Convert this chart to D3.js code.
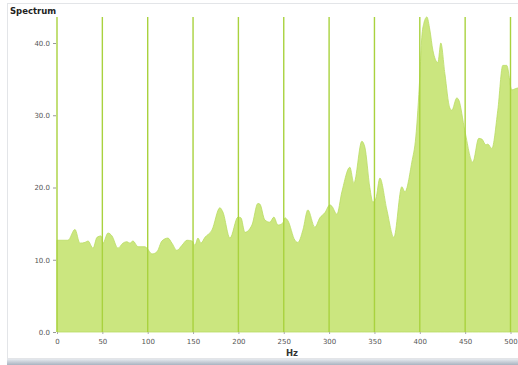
<!DOCTYPE html>
<html>
<head>
<meta charset="utf-8">
<script src="https://cdn.jsdelivr.net/npm/d3@7"></script>
<style>
  html, body { margin: 0; padding: 0; background: #ffffff; }
  svg { display: block; }
  text { font-family: Verdana, "DejaVu Sans", sans-serif; }
</style>
</head>
<body>
<svg id="chart" width="518" height="365"></svg>
<script>
// Spectrum amplitude by frequency (Hz)
const freqHz = [0, 12.1, 19.8, 25.3, 30.9, 34.2, 39.7, 44.1, 48.5, 50.7, 56.2, 60.6, 67.2, 72.7, 77.1, 80.4, 83.8, 89.3, 97.0, 99.2,
  104.7, 110.2, 115.7, 122.3, 126.7, 132.2, 137.8, 143.3, 148.8, 152.1, 155.4, 158.7, 163.1, 170.8, 179.6, 182.9, 190.7, 199.5,
  202.8, 207.2, 214.9, 221.5, 223.7, 229.2, 234.7, 239.1, 243.6, 249.1, 251.3, 254.6, 262.3, 265.6, 271.1, 276.6, 284.3, 289.8,
  295.3, 300.9, 303.1, 308.6, 314.1, 322.9, 327.3, 336.1, 339.4, 344.9, 348.2, 351.6, 356.0, 363.7, 371.4, 380.2, 383.5, 391.2,
  395.6, 400.0, 402.2, 404.4, 407.8, 411.1, 414.4, 419.9, 423.2, 427.6, 433.1, 435.3, 440.8, 443.0, 449.6, 458.4, 465.0, 468.4,
  472.8, 475.0, 479.4, 486.0, 491.5, 495.9, 501.4, 505.8, 512];
const amplitude = [12.7, 12.7, 14.2, 12.3, 12.4, 12.6, 11.6, 13.1, 13.3, 12.3, 13.7, 13.3, 11.6, 12.3, 12.5, 12.3, 12.6, 11.8, 11.8, 11.6,
  10.8, 11.1, 12.6, 13.0, 12.3, 11.3, 12.0, 12.7, 12.6, 12.0, 13.0, 12.3, 13.1, 14.1, 17.2, 16.6, 13.0, 15.9,
  15.8, 13.8, 14.8, 17.8, 17.7, 15.5, 15.2, 15.9, 14.8, 15.1, 15.8, 15.4, 12.7, 12.4, 14.1, 16.9, 14.5, 15.8,
  16.5, 17.6, 17.4, 16.3, 19.4, 22.8, 20.6, 26.4, 25.6, 20.0, 18.0, 18.5, 21.3, 16.9, 13.1, 20.1, 19.4, 23.5,
  27.0, 35.3, 40.8, 42.7, 43.6, 41.8, 39.0, 37.3, 40.0, 35.8, 31.0, 30.7, 32.4, 32.1, 27.9, 23.5, 26.8, 26.7,
  25.9, 26.0, 25.4, 30.7, 36.9, 36.9, 33.5, 33.7, 33.9];

const xTicks = [0, 50, 100, 150, 200, 250, 300, 350, 400, 450, 500];
const yTicks = [0, 10, 20, 30, 40];
const yTickLabels = ["0.0", "10.0", "20.0", "30.0", "40.0"];

const data = freqHz.map((f, i) => ({ f, v: amplitude[i] }));

const svg = d3.select("#chart");

// panel frame
svg.append("rect").attr("x", 7.5).attr("y", 3.5).attr("width", 520).attr("height", 355)
  .attr("fill", "#ffffff").attr("stroke", "#e3e5e8");
const grad = svg.append("defs").append("linearGradient").attr("id", "shade")
  .attr("x1", 0).attr("y1", 0).attr("x2", 0).attr("y2", 1);
grad.append("stop").attr("offset", "0%").attr("stop-color", "#e6eaef");
grad.append("stop").attr("offset", "100%").attr("stop-color", "#a9b3c0");
svg.append("rect").attr("x", 7).attr("y", 359).attr("width", 511).attr("height", 6).attr("fill", "url(#shade)");

const x = d3.scaleLinear().domain([0, 500]).range([57, 510.5]);
const y = d3.scaleLinear().domain([0, 40]).range([332, 43]);
const plotTop = 17;

// filled spectrum
const area = d3.area()
  .x(d => x(d.f))
  .y0(y(0))
  .y1(d => y(d.v))
  .curve(d3.curveMonotoneX);

svg.append("path").datum(data)
  .attr("d", area)
  .attr("fill", "#cbe67f")
  .attr("stroke", "#b9dc62")
  .attr("stroke-width", 0.8);

// vertical grid lines at each x tick
svg.append("g").selectAll("line").data(xTicks).join("line")
  .attr("x1", d => x(d)).attr("x2", d => x(d))
  .attr("y1", plotTop).attr("y2", y(0))
  .attr("stroke", "#a9d23e")
  .attr("stroke-width", 1.4);

// y axis ticks and labels
const yAxis = d3.axisLeft(y).tickValues(yTicks)
  .tickFormat((d, i) => yTickLabels[i]).tickSize(3).tickPadding(3);
const gy = svg.append("g").attr("transform", "translate(56,0)").call(yAxis);
gy.select(".domain").remove();
gy.selectAll(".tick line").attr("stroke", "#999");
gy.selectAll("text").attr("fill", "#555").attr("font-size", "7px")
  .attr("font-family", "Verdana, 'DejaVu Sans', sans-serif");

// x axis ticks and labels
const xAxis = d3.axisBottom(x).tickValues(xTicks).tickSize(2).tickPadding(5);
const gx = svg.append("g").attr("transform", `translate(0,${y(0)})`).call(xAxis);
gx.select(".domain").remove();
gx.selectAll(".tick line").attr("stroke", "#aaa");
gx.selectAll("text").attr("fill", "#555").attr("font-size", "7px")
  .attr("font-family", "Verdana, 'DejaVu Sans', sans-serif");

// titles
svg.append("text").attr("x", 10).attr("y", 13.5)
  .attr("font-size", "8.5px").attr("font-weight", "bold").attr("fill", "#222")
  .text("Spectrum");
svg.append("text").attr("x", 292).attr("y", 356)
  .attr("text-anchor", "middle")
  .attr("font-size", "8.5px").attr("font-weight", "bold").attr("fill", "#333")
  .text("Hz");
</script>
</body>
</html>
